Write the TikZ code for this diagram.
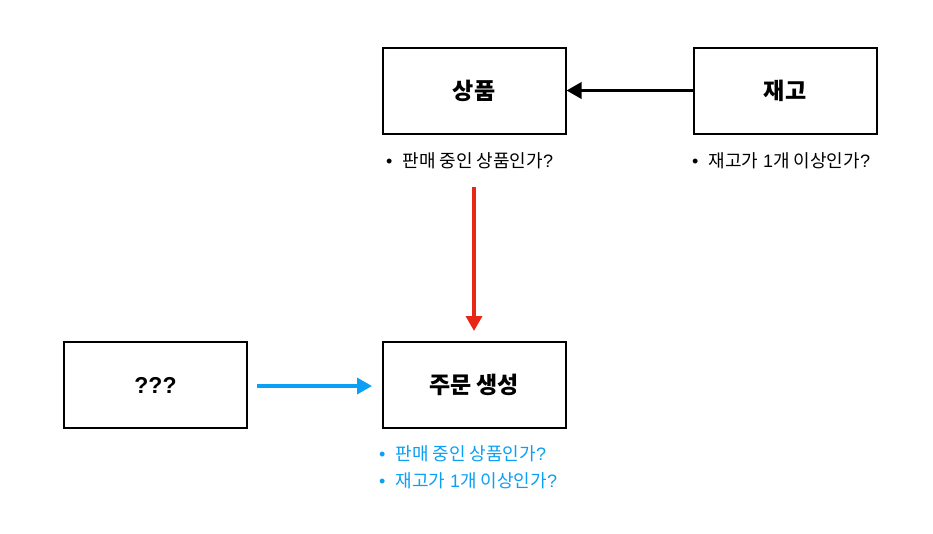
\documentclass[tikz,border=0pt]{standalone}
\usepackage{fontspec}
\setmainfont{Liberation Sans}
\newfontfamily\kr{Noto Sans CJK KR}
\usetikzlibrary{arrows.meta}
\definecolor{myred}{RGB}{232,40,20}
\definecolor{myblue}{RGB}{10,160,245}
\tikzset{
  box/.style={draw=black, line width=2pt, minimum width=183pt, minimum height=86pt, inner sep=0pt, font=\fontsize{23}{27}\selectfont\bfseries},
  note/.style={anchor=west, inner sep=0pt, font=\fontsize{18}{21}\selectfont},
  conn/.style={line width=3.4pt, -{Triangle[length=15pt,width=16pt]}},
}
\begin{document}
\begin{tikzpicture}[x=1pt,y=-1pt]
\useasboundingbox[fill=white] (0,0) rectangle (933,533);
\node[box] (prod) at (474,90.5) {\kr 상품};
\node[box] (stock) at (785,90.5) {\kr 재고};
\node[box] (unk) at (155.5,385) {???};
\node[box] (order) at (474,385) {\kr 주문 생성};
\node[note] (n1) at (386,160.5) {•\hspace{10pt}{\kr 판매 중인 상품인가}?};
\node[note] (n2) at (692,160.5) {•\hspace{10pt}{\kr 재고가} 1{\kr 개 이상인가}?};
\node[note, text=myblue] (n3) at (379,453.5) {•\hspace{10pt}{\kr 판매 중인 상품인가}?};
\node[note, text=myblue] (n4) at (379,480.5) {•\hspace{10pt}{\kr 재고가} 1{\kr 개 이상인가}?};
\coordinate (rtop) at (474,187);
\coordinate (rend) at (474,331);
\coordinate (bstart) at (257,386);
\coordinate (bend) at (372,386);
\draw[conn, black] (stock.west) -- (prod.east);
\draw[conn, myred] (rtop) -- (rend);
\draw[conn, myblue] (bstart) -- (bend);
\end{tikzpicture}
\end{document}
